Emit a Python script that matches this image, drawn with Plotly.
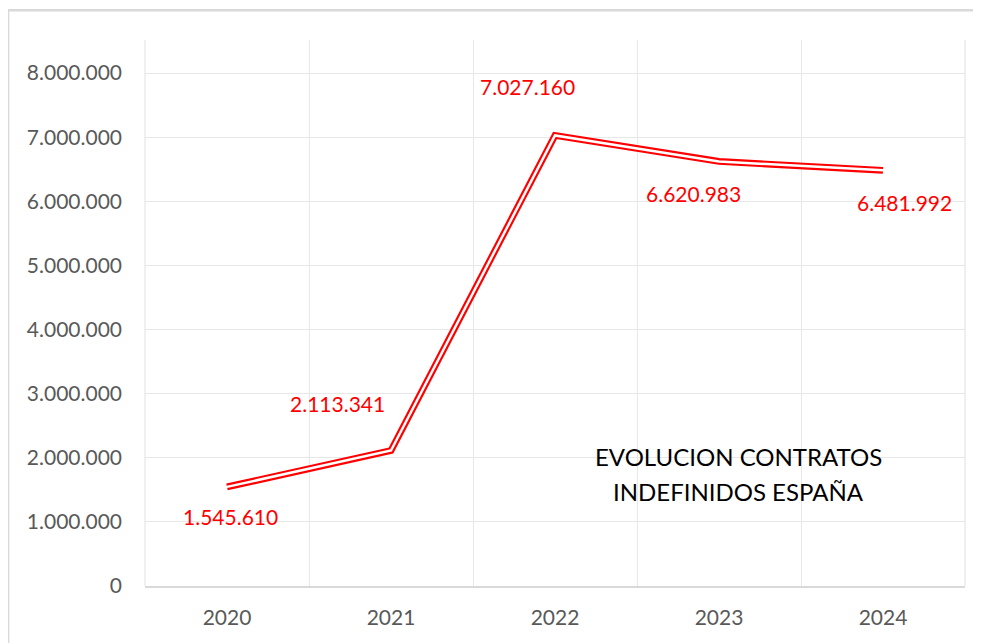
import plotly.graph_objects as go

years = ["2020", "2021", "2022", "2023", "2024"]
contratos = [1545610, 2113341, 7027160, 6620983, 6481992]
y_ticks = [0, 1000000, 2000000, 3000000, 4000000, 5000000, 6000000, 7000000, 8000000]
title_lines = ["EVOLUCION CONTRATOS", "INDEFINIDOS ESPAÑA"]

def fmt(v):
    return f"{v:,}".replace(",", ".")

# label offsets in pixels (style)
label_shifts = [(3, -30), (-54, 47), (-28, 49), (-26, -32), (21, -32)]

FONT = "Lato"
fig = go.Figure()
# compound (double) line: thick red under, thin white over
fig.add_trace(go.Scatter(x=years, y=contratos, mode="lines",
                         line=dict(color="#ff0000", width=6.8), hoverinfo="skip"))
fig.add_trace(go.Scatter(x=years, y=contratos, mode="lines",
                         line=dict(color="#ffffff", width=2.5), hoverinfo="skip"))

for i, (v, (dx, dy)) in enumerate(zip(contratos, label_shifts)):
    fig.add_annotation(x=i, y=v, xref="x", yref="y", text=fmt(v), showarrow=False,
                       xanchor="center", yanchor="middle",
                       xshift=dx, yshift=dy, font=dict(family=FONT, size=21, color="#ff0000"))

for j, line in enumerate(title_lines):
    fig.add_annotation(x=0.724, y=0.237 - j * 0.064, xref="paper", yref="paper",
                       text=line, showarrow=False, xanchor="center", yanchor="middle",
                       font=dict(family=FONT, size=24, color="#000000"))

# plot-area side edges (light, like gridlines)
for xp in (0, 1):
    fig.add_shape(type="line", xref="paper", yref="paper", x0=xp, x1=xp, y0=0, y1=1,
                  line=dict(color="#e8e8e8", width=1.3), layer="below")

# outer frame (top and left edges visible)
fig.add_shape(type="line", xref="paper", yref="paper", x0=-0.167, x1=1.06, y0=1.0545, y1=1.0545,
              line=dict(color="#d9d9d9", width=2.5))
fig.add_shape(type="line", xref="paper", yref="paper", x0=-0.167, x1=-0.167, y0=1.0545, y1=-0.11,
              line=dict(color="#d9d9d9", width=2.5))

fig.update_layout(
    width=973, height=635,
    margin=dict(l=137, r=16, t=32, b=57),
    paper_bgcolor="white", plot_bgcolor="white",
    showlegend=False,
    xaxis=dict(type="category", range=[-0.5, 4.5], tickson="boundaries",
               showgrid=True, gridcolor="#e8e8e8", gridwidth=1.3,
               ticks="", showline=True, linecolor="#d9d9d9", linewidth=1.5,
               tickfont=dict(family=FONT, size=21, color="#595959"),
               ticklabelstandoff=12, zeroline=False, fixedrange=True),
    yaxis=dict(range=[0, 8515000], tickvals=y_ticks, ticktext=[fmt(t) for t in y_ticks],
               showgrid=True, gridcolor="#e8e8e8", gridwidth=1.3, zeroline=False,
               showline=False, ticks="",
               tickfont=dict(family=FONT, size=21, color="#595959"),
               ticklabelstandoff=22, fixedrange=True),
)

fig.write_html("out.html")
